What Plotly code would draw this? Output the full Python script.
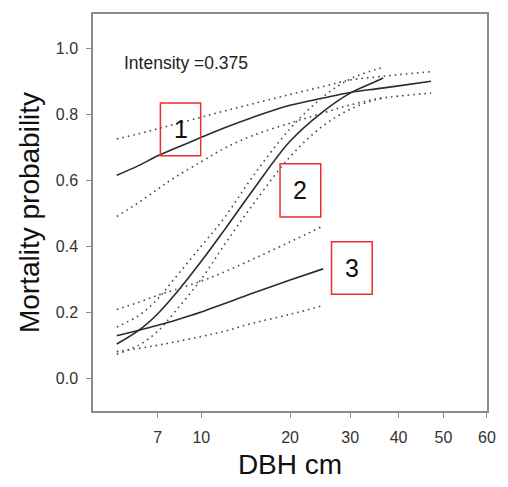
import numpy as np
import plotly.graph_objects as go

# ---------------- data ----------------
# x-axis tick labels (DBH, cm) and the reference's (non-uniform) tick placement
TICK_DBH = [7, 10, 20, 30, 40, 50, 60]
TICK_POS = [159, 203.3, 293.7, 355, 404.3, 450, 494.3]
X_RANGE = [93, 494.35]
Y_RANGE = [-0.1, 1.104]
Y_TICKS = [0.0, 0.2, 0.4, 0.6, 0.8, 1.0]

# curve 1
DBH_1 = [5, 6, 7, 8, 10, 12, 15, 20, 25, 30, 35, 40, 47]
P1 = [0.615, 0.645, 0.674, 0.695, 0.730, 0.759, 0.791, 0.827, 0.849, 0.866, 0.877, 0.886, 0.900]
P1_UP = [0.725, 0.741, 0.756, 0.769, 0.791, 0.810, 0.832, 0.860, 0.884, 0.904, 0.913, 0.920, 0.929]
P1_LO = [0.490, 0.533, 0.573, 0.607, 0.656, 0.697, 0.736, 0.773, 0.804, 0.828, 0.846, 0.855, 0.864]

# curve 2
DBH_2 = [5, 6, 7, 8, 10, 12, 15, 20, 25, 30, 35, 36.5]
P2 = [0.103, 0.145, 0.195, 0.250, 0.354, 0.450, 0.571, 0.718, 0.808, 0.864, 0.900, 0.910]
P2_UP = [0.155, 0.190, 0.240, 0.300, 0.400, 0.487, 0.613, 0.756, 0.853, 0.907, 0.936, 0.942]
P2_LO = [0.072, 0.100, 0.142, 0.198, 0.300, 0.405, 0.527, 0.671, 0.765, 0.815, 0.845, 0.849]

# curve 3
DBH_3 = [5, 6, 7, 8, 10, 12, 15, 20, 25]
P3 = [0.128, 0.145, 0.160, 0.174, 0.200, 0.226, 0.258, 0.297, 0.331]
P3_UP = [0.208, 0.230, 0.251, 0.267, 0.294, 0.322, 0.361, 0.413, 0.461]
P3_LO = [0.080, 0.090, 0.0995, 0.109, 0.126, 0.142, 0.1665, 0.193, 0.220]

# label boxes: (label, dbh_left, dbh_right, p_bottom, p_top)
BOX_LABELS = ["1", "2", "3"]
BOX_DBH = [(7.15, 9.95), (18.5, 24.6), (26.45, 34.2)]
BOX_P = [(0.674, 0.834), (0.488, 0.650), (0.254, 0.413)]

INTENSITY_TEXT = "Intensity =0.375"
INTENSITY_AT = (5.2, 0.955)


# ------------- warped DBH scale of the reference axis -------------
def warp(d):
    ld = np.log10(np.asarray(d, dtype=float))
    lt = np.log10(np.asarray(TICK_DBH, dtype=float))
    pos = np.interp(ld, lt, TICK_POS)
    slope_lo = (TICK_POS[1] - TICK_POS[0]) / (lt[1] - lt[0])
    pos = np.where(ld < lt[0], TICK_POS[0] + (ld - lt[0]) * slope_lo, pos)
    return pos


FONT = "Liberation Sans, Arial, sans-serif"
SOLID = dict(color="#2b2b2b", width=1.6)
DOTTED = dict(color="#4a4a4a", width=1.6, dash="1.6px,4px")

fig = go.Figure()
for dbh, p, up, lo in [(DBH_1, P1, P1_UP, P1_LO),
                       (DBH_2, P2, P2_UP, P2_LO),
                       (DBH_3, P3, P3_UP, P3_LO)]:
    xs = warp(dbh)
    fig.add_trace(go.Scatter(x=xs, y=up, mode="lines", line=dict(DOTTED, shape="spline"),
                             showlegend=False, hoverinfo="skip"))
    fig.add_trace(go.Scatter(x=xs, y=lo, mode="lines", line=dict(DOTTED, shape="spline"),
                             showlegend=False, hoverinfo="skip"))
    fig.add_trace(go.Scatter(x=xs, y=p, mode="lines", line=dict(SOLID, shape="spline"),
                             showlegend=False))

for lab, (d0, d1), (p0, p1) in zip(BOX_LABELS, BOX_DBH, BOX_P):
    x0, x1 = warp([d0, d1])
    fig.add_shape(type="rect", xref="x", yref="y", x0=x0, x1=x1, y0=p0, y1=p1,
                  line=dict(color="rgb(240,45,45)", width=1.5))
    fig.add_annotation(x=(x0 + x1) / 2, y=(p0 + p1) / 2, xref="x", yref="y",
                       text=lab, showarrow=False,
                       font=dict(family=FONT, size=25, color="#111"))

fig.add_annotation(x=float(warp([INTENSITY_AT[0]])[0]), y=INTENSITY_AT[1], xref="x", yref="y",
                   text=INTENSITY_TEXT, showarrow=False, xanchor="left", yanchor="middle",
                   font=dict(family=FONT, size=17.5, color="#222"))

axis_common = dict(showline=True, linecolor="#8c8c8c", linewidth=1.5, mirror=True,
                   ticks="outside", ticklen=5, tickwidth=1.3, tickcolor="#8c8c8c",
                   showgrid=False, zeroline=False, ticklabeloverflow="allow",
                   tickfont=dict(family=FONT, size=16, color="#333"))

fig.update_layout(
    width=508, height=487,
    margin=dict(l=93, r=14, t=12, b=74),
    paper_bgcolor="white", plot_bgcolor="white",
    xaxis=dict(axis_common, range=X_RANGE,
               tickvals=list(warp(TICK_DBH)), ticktext=[str(t) for t in TICK_DBH],
               ticklabelstandoff=6,
               title=dict(text="DBH cm", font=dict(family=FONT, size=28, color="#111"), standoff=9)),
    yaxis=dict(axis_common, range=Y_RANGE, tickvals=Y_TICKS,
               ticktext=[f"{v:.1f}" for v in Y_TICKS], ticklabelstandoff=5,
               title=dict(text="Mortality probability", font=dict(family=FONT, size=28, color="#111"),
                          standoff=8)),
)

# remove the page's default body margin and scrollbars so the figure fills the window
fig.write_html(
    "out.html",
    config={"displayModeBar": False},
    post_script=("document.body.style.margin='0';"
                 "document.documentElement.style.overflow='hidden';"
                 "document.body.style.overflow='hidden';"),
)
